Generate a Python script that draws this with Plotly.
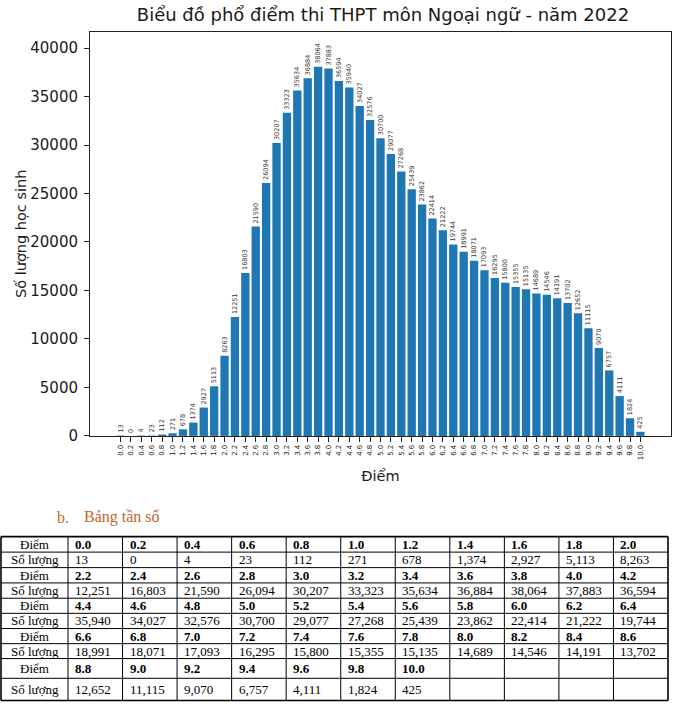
import plotly.graph_objects as go

# ---- data ----
scores = ["0.0", "0.2", "0.4", "0.6", "0.8", "1.0", "1.2", "1.4", "1.6", "1.8", "2.0",
          "2.2", "2.4", "2.6", "2.8", "3.0", "3.2", "3.4", "3.6", "3.8", "4.0", "4.2",
          "4.4", "4.6", "4.8", "5.0", "5.2", "5.4", "5.6", "5.8", "6.0", "6.2", "6.4",
          "6.6", "6.8", "7.0", "7.2", "7.4", "7.6", "7.8", "8.0", "8.2", "8.4", "8.6",
          "8.8", "9.0", "9.2", "9.4", "9.6", "9.8", "10.0"]
counts = [13, 0, 4, 23, 112, 271, 678, 1374, 2927, 5113, 8263,
          12251, 16803, 21590, 26094, 30207, 33323, 35634, 36884, 38064, 37883, 36594,
          35940, 34027, 32576, 30700, 29077, 27268, 25439, 23862, 22414, 21222, 19744,
          18991, 18071, 17093, 16295, 15800, 15355, 15135, 14689, 14546, 14191, 13702,
          12652, 11115, 9070, 6757, 4111, 1824, 425]
yticks = [0, 5000, 10000, 15000, 20000, 25000, 30000, 35000, 40000]

title = "Biểu đồ phổ điểm thi THPT môn Ngoại ngữ - năm 2022"
x_title = "Điểm"
y_title = "Số lượng học sinh"
table_caption_num = "b."
table_caption = "Bảng tần số"
row_label_score = "Điểm"
row_label_count = "Số lượng"

W, H = 680, 711
BLUE = "#1f77b4"
TXT = "#1a1a1a"

def px_x(p):
    return p / W

def px_y(p):
    return min(1.0, max(0.0, 1 - p / H))

fig = go.Figure()

fig.add_trace(go.Bar(
    x=scores, y=counts,
    marker=dict(color=BLUE, line=dict(width=0)),
    text=[str(c) for c in counts],
    textposition="outside",
    textangle=-90,
    constraintext="none",
    cliponaxis=False,
    textfont=dict(family="DejaVu Sans", size=6.5, color="#333333"),
    width=0.8,
    showlegend=False,
    hoverinfo="x+y",
))

# ---- frequency table (grid geometry in px, content from the data lists) ----
group = 11
groups = [list(range(i, min(i + group, len(scores)))) for i in range(0, len(scores), group)]

def fmt_count(v):
    return f"{v:,}"

col_edges = [1, 68] + [68 + k * (668 - 68) / group for k in range(1, group + 1)]
row_edges = [543.5, 559.2, 574.9, 590.4, 605.9, 621.2, 636.6, 651.9, 667.0, 687.0, 709.5]

shapes = []
annotations = []
TFONT = "Liberation Serif"
for i, yv in enumerate(row_edges):
    outer = i in (0, len(row_edges) - 1)
    shapes.append(dict(type="line", xref="paper", yref="paper",
                       x0=px_x(col_edges[0]), x1=px_x(col_edges[-1]), y0=px_y(yv), y1=px_y(yv),
                       line=dict(color="black", width=1.6 if outer else 1)))
for j, xv in enumerate(col_edges):
    outer = j in (0, len(col_edges) - 1)
    shapes.append(dict(type="line", xref="paper", yref="paper",
                       x0=px_x(xv), x1=px_x(xv), y0=px_y(row_edges[0]), y1=px_y(row_edges[-1]),
                       line=dict(color="black", width=1.6 if outer else 1)))

for gi, g in enumerate(groups):
    for sub, label in enumerate([row_label_score, row_label_count]):
        r = 2 * gi + sub
        yc = (row_edges[r] + row_edges[r + 1]) / 2
        annotations.append(dict(text=label, x=px_x((col_edges[0] + col_edges[1]) / 2), y=px_y(yc),
                                xref="paper", yref="paper", xanchor="center", yanchor="middle",
                                showarrow=False, font=dict(family=TFONT, size=13, color="black")))
        for j, idx in enumerate(g):
            txt = f"<b>{scores[idx]}</b>" if sub == 0 else fmt_count(counts[idx])
            annotations.append(dict(text=txt, x=px_x(col_edges[j + 1] + 5), y=px_y(yc),
                                    xref="paper", yref="paper", xanchor="left", yanchor="middle",
                                    showarrow=False, font=dict(family=TFONT, size=13, color="black")))

annotations += [
    dict(text=table_caption_num, x=px_x(55), y=px_y(524), xref="paper", yref="paper",
         xanchor="left", yanchor="middle", showarrow=False,
         font=dict(family=TFONT, size=16, color="#c4662b")),
    dict(text=table_caption, x=px_x(82), y=px_y(524), xref="paper", yref="paper",
         xanchor="left", yanchor="middle", showarrow=False,
         font=dict(family=TFONT, size=16, color="#c4662b")),
    dict(text=y_title, x=px_x(21), y=px_y(237), xref="paper", yref="paper",
         xanchor="center", yanchor="middle", textangle=-90, showarrow=False,
         font=dict(family="DejaVu Sans", size=14.5, color=TXT)),
]

fig.update_layout(
    width=W, height=H,
    margin=dict(l=0, r=0, t=0, b=0),
    paper_bgcolor="white",
    plot_bgcolor="white",
    bargap=0.2,
    title=dict(text=title, x=px_x(383), y=px_y(15), xanchor="center", yanchor="middle",
               font=dict(family="DejaVu Sans", size=18, color=TXT)),
    xaxis=dict(
        domain=[px_x(90), px_x(671)],
        type="category",
        range=[-2.94, 52.94],
        showline=True, mirror=True, linecolor="#222", linewidth=1,
        ticks="outside", ticklen=5, tickcolor="#222", tickwidth=1,
        tickangle=-90,
        tickfont=dict(family="DejaVu Sans", size=7, color=TXT),
        showgrid=False, zeroline=False,
        title=dict(text=x_title, font=dict(family="DejaVu Sans", size=14.5, color=TXT), standoff=11),
        anchor="y",
    ),
    yaxis=dict(
        domain=[px_y(441.5), px_y(32)],
        range=[0, 41700],
        tickvals=yticks,
        tickformat="d",
        showline=True, mirror=True, linecolor="#222", linewidth=1,
        ticks="outside", ticklen=5, tickcolor="#222", tickwidth=1,
        ticklabelstandoff=3,
        tickfont=dict(family="DejaVu Sans", size=15, color=TXT),
        showgrid=False, zeroline=False,
        anchor="x",
    ),
    shapes=shapes,
    annotations=annotations,
)

fig.write_html("out.html", config={"displayModeBar": False},
               post_script="document.body.style.margin='0';")
